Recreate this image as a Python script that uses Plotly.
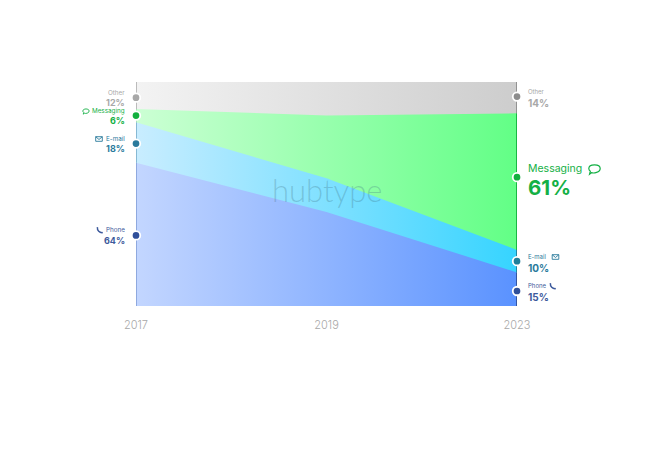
import plotly.graph_objects as go

years = ["2017", "2019", "2023"]

phone = [64, 42, 15]
email = [18, 15, 10]
messaging = [6, 28, 61]
other = [12, 15, 14]

# where the dots sit on the 0-100 axis
dots_2017 = [31.5, 72.5, 85, 93]
dots_2023 = [6.7, 20, 57.5, 93.5]

names = ["Phone", "E-mail", "Messaging", "Other"]
pct_2017 = ["64%", "18%", "6%", "12%"]
pct_2023 = ["15%", "10%", "61%", "14%"]

fill_left = ["#c3d6ff", "#c9edff", "#ccffd4", "#f3f3f3"]
fill_right = ["#5a92ff", "#36d4ff", "#62ff86", "#cdcdcd"]
edge_left = ["#8aa4dc", "#7fb4d0", "#a8e0b4", "#b5b5b5"]
edge_right = ["#2f4f9a", "#1f7f9a", "#12b03e", "#8c8c8c"]
dot_left = ["#2f4f9a", "#2a7a9c", "#12b03e", "#a8a8a8"]
dot_right = ["#2f4f9a", "#1f7f9a", "#12b03e", "#8c8c8c"]
text_col = ["#3d5a9c", "#2a7a9c", "#14b045", "#a8a8a8"]

W, H = 653, 465
L, R, T, B = 136, 517, 82, 306

fig = go.Figure()

series = [phone, email, messaging, other]
tops = []
base = [0, 0, 0]
for vals in series:
    base = [b + v for b, v in zip(base, vals)]
    tops.append(base)

# painted back to front so neighbouring bands have no seam between them
for i in range(3, -1, -1):
    fig.add_trace(go.Scatter(
        x=years, y=tops[i], mode="none", fill="tozeroy", name=names[i],
        fillgradient=dict(type="horizontal",
                          colorscale=[[0, fill_left[i]], [1, fill_right[i]]]),
    ))

for i in range(4):
    low = tops[i - 1] if i else [0, 0, 0]
    for idx, col in ((0, edge_left[i]), (2, edge_right[i])):
        fig.add_trace(go.Scatter(
            x=[years[idx], years[idx]], y=[low[idx], tops[i][idx]], mode="lines",
            line=dict(color=col, width=1.8), showlegend=False, hoverinfo="skip",
        ))

for x, levels, cols in (("2017", dots_2017, dot_left), ("2023", dots_2023, dot_right)):
    fig.add_trace(go.Scatter(
        x=[x] * 4, y=levels, mode="markers", cliponaxis=False, showlegend=False,
        marker=dict(size=8.5, color=cols, line=dict(color="white", width=1.8)),
    ))


def label(x, y, text, xshift, yshift, anchor, size, color, bold=True):
    # x is the category index: annotations read "2017" as a number
    fig.add_annotation(
        x=x, y=y, text=text, xref="x", yref="y", showarrow=False,
        xshift=xshift, yshift=yshift, xanchor=anchor, yanchor="middle",
        borderpad=0, borderwidth=0,
        font=dict(family="Inter", size=size, color=color,
                  weight=700 if bold else 400),
    )


for i in range(4):
    label(0, dots_2017[i], names[i], -11, 5, "right", 6.3, text_col[i], False)
    label(0, dots_2017[i], pct_2017[i], -11, -5, "right", 9, text_col[i])
    if names[i] == "Messaging":
        label(2, dots_2023[i], names[i], 11, 9, "left", 10.5, text_col[i], False)
        label(2, dots_2023[i], pct_2023[i], 11, -10, "left", 20.5, text_col[i])
    else:
        label(2, dots_2023[i], names[i], 11, 5, "left", 6, text_col[i], False)
        label(2, dots_2023[i], pct_2023[i], 11, -6.5, "left", 10, text_col[i])

# watermark
fig.add_annotation(
    x=0.5, y=0.52, xref="paper", yref="paper", text="hubtype", showarrow=False,
    font=dict(family="Lato", size=31, color="rgba(60,110,130,0.28)", weight=300),
)


def icon(cx, cy, cmds, color, width=0.9):
    path = []
    for cmd in cmds:
        nums = cmd[1:]
        pts = []
        for k in range(0, len(nums), 2):
            pts.append(f"{(cx + nums[k] - L) / (R - L):.5f},{(B - cy - nums[k + 1]) / (B - T):.5f}")
        path.append(cmd[0] + " ".join(pts))
    fig.add_shape(type="path", path=" ".join(path), xref="paper", yref="paper",
                  line=dict(color=color, width=width), layer="above")


def bubble(s):
    return [("M", -3 * s, 0), ("C", -3 * s, -2.6 * s, 3 * s, -2.6 * s, 3 * s, 0),
            ("C", 3 * s, 2.2 * s, -0.5 * s, 2.6 * s, -1.6 * s, 2.2 * s),
            ("L", -2.6 * s, 3 * s), ("L", -2.2 * s, 1.4 * s),
            ("C", -2.8 * s, 1 * s, -3 * s, 0.5 * s, -3 * s, 0)]


envelope = [("M", -3.3, -2.3), ("L", 3.3, -2.3), ("L", 3.3, 2.3), ("L", -3.3, 2.3), ("L", -3.3, -2.3),
            ("L", 0, 0.5), ("L", 3.3, -2.3)]
handset = [("M", -2.6, -2.8), ("C", -3, 0.5, -0.5, 3, 2.8, 2.6)]

icon(86, 111, bubble(1.05), text_col[2])
icon(594.5, 168.5, bubble(1.9), text_col[2], 1.2)
icon(99, 139, envelope, text_col[1])
icon(555.5, 257, envelope, text_col[1])
icon(100, 230, handset, text_col[0], 1.5)
icon(553, 286, handset, text_col[0], 1.5)

fig.update_xaxes(type="category", categoryorder="array", categoryarray=years,
                 range=[0, 2], showgrid=False, zeroline=False, showline=False,
                 ticks="outside", ticklen=9, tickcolor="rgba(0,0,0,0)",
                 tickfont=dict(family="Inter", size=11, color="#a8a8a8", weight=300))
fig.update_yaxes(range=[0, 100], visible=False)
fig.update_layout(
    width=W, height=H, autosize=False, showlegend=False,
    margin=dict(l=L, r=W - R, t=T, b=H - B, pad=0),
    paper_bgcolor="white", plot_bgcolor="white",
)

fig.write_html("out.html", config={"displayModeBar": False},
               post_script="document.body.style.margin='0';")
